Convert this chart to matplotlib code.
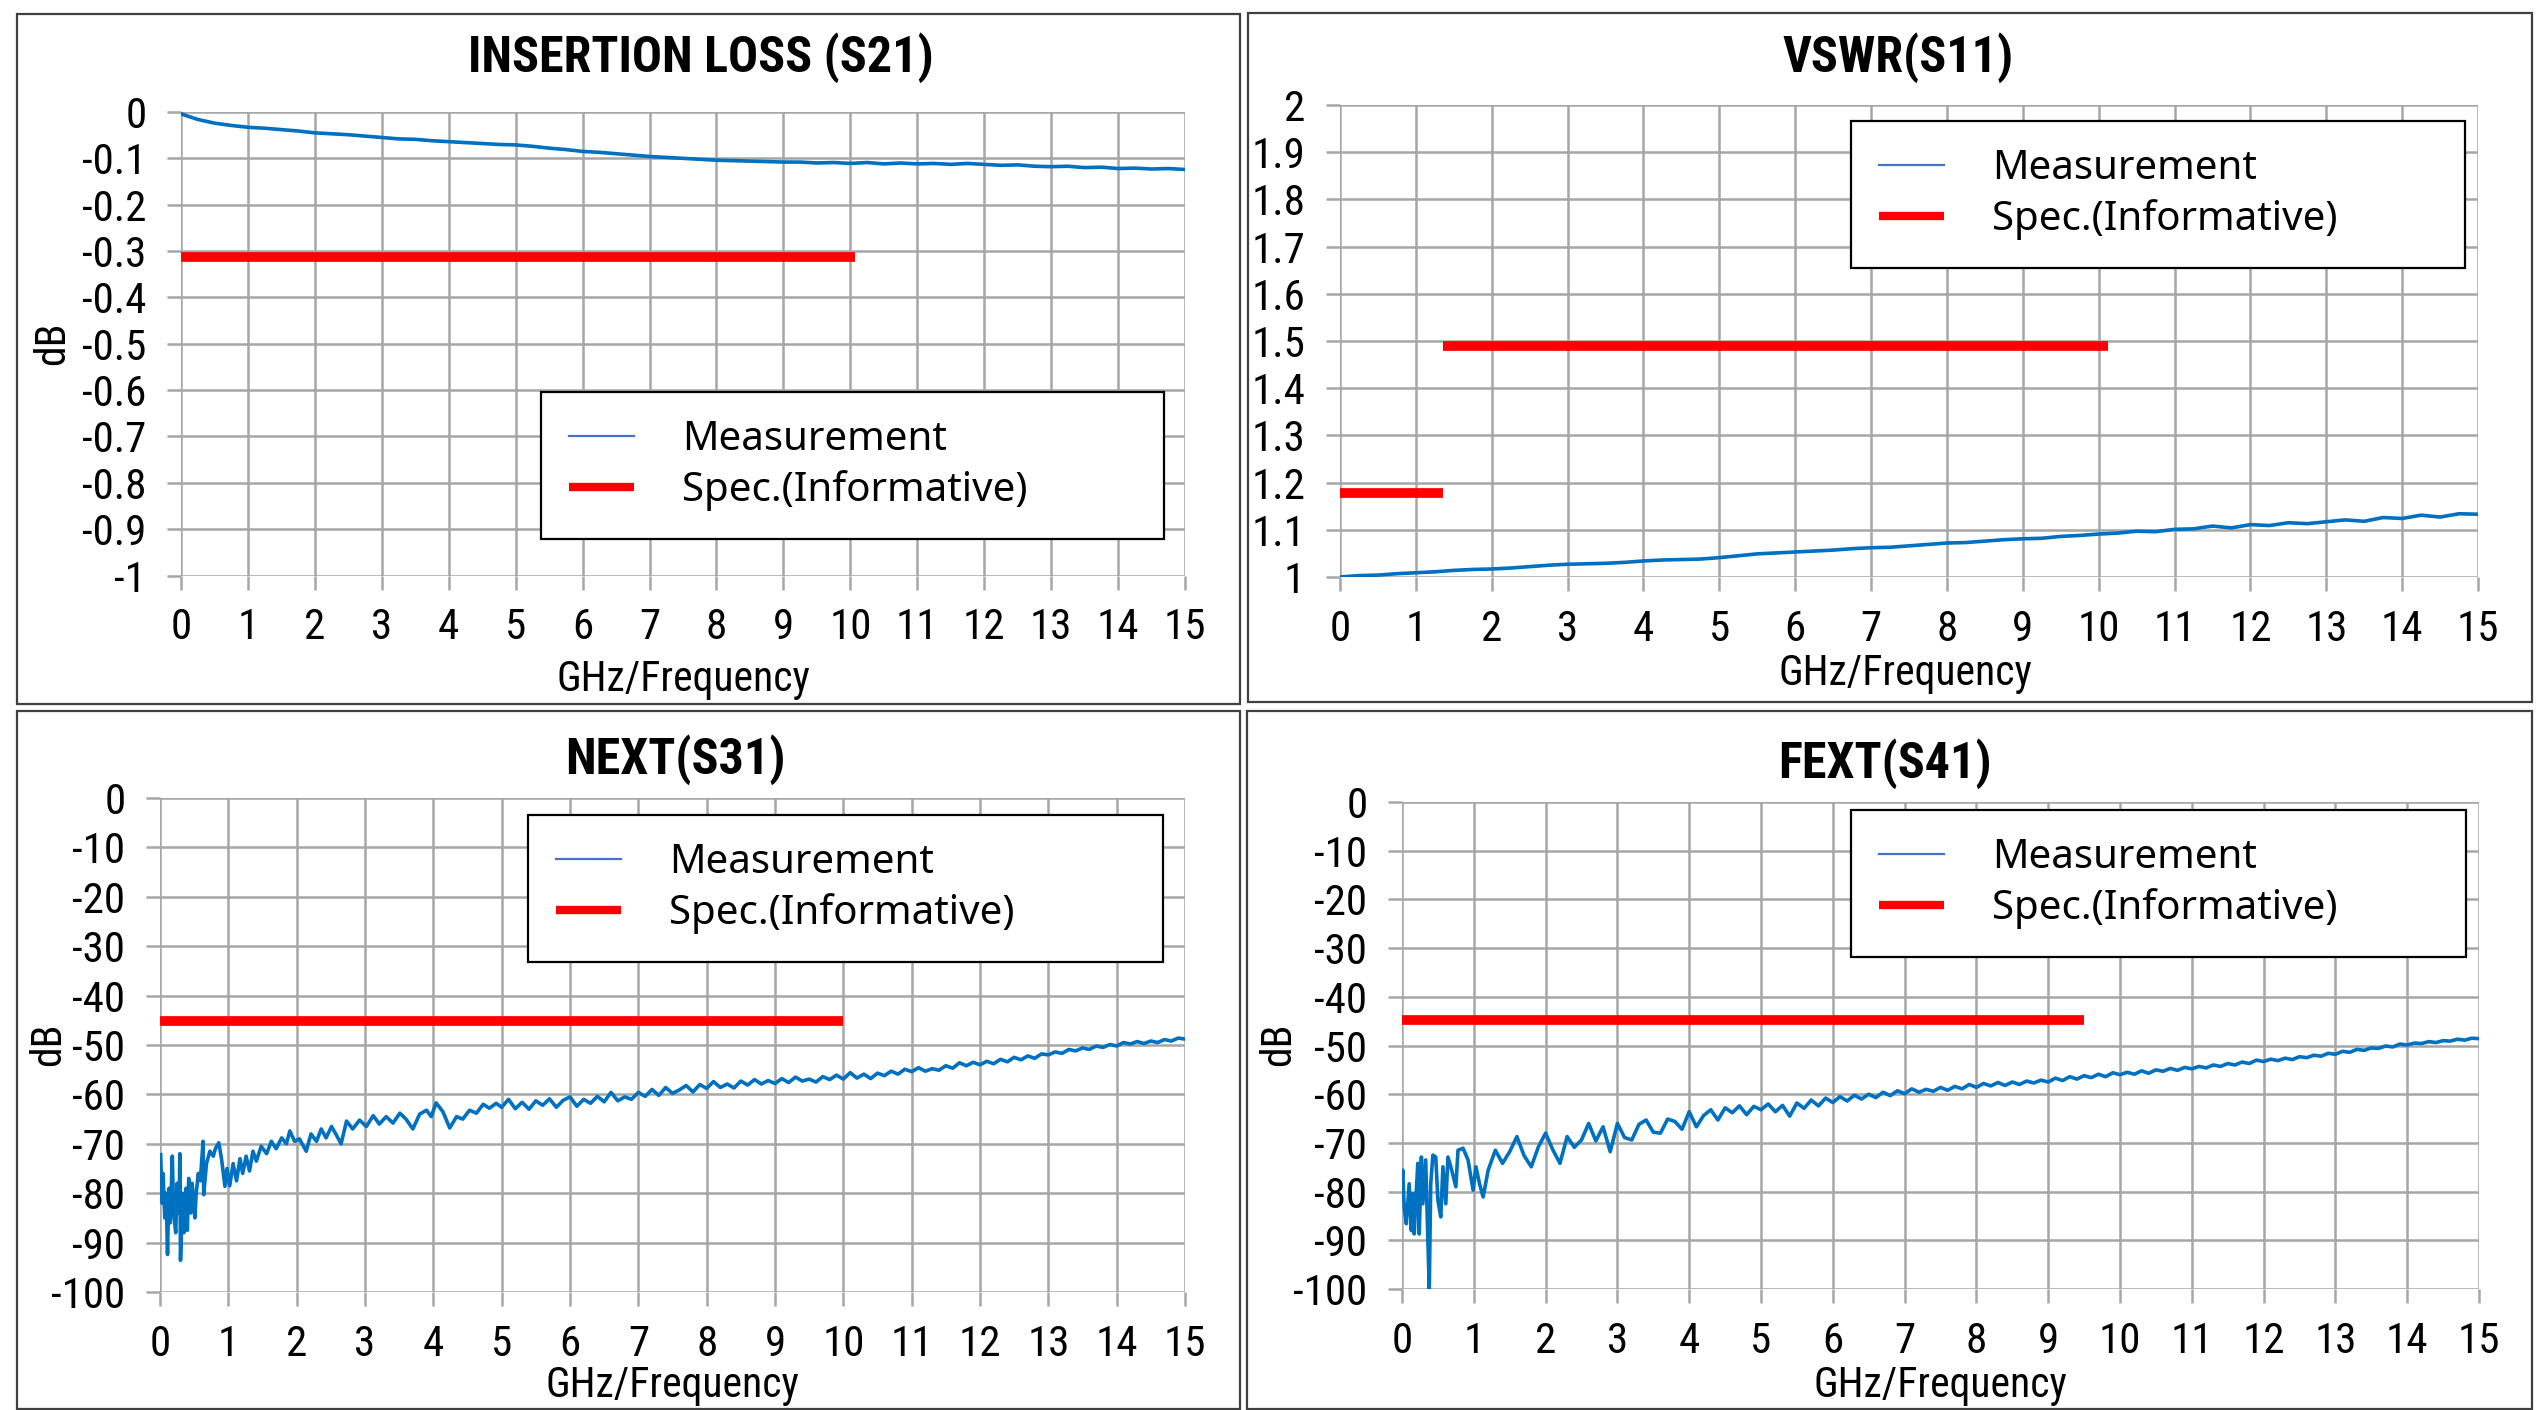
import matplotlib
matplotlib.use('Agg')
import matplotlib.pyplot as plt
from matplotlib.patches import Rectangle
from matplotlib.ticker import FuncFormatter

W, H = 2539, 1410
NARROW = ['Roboto Condensed', 'Archivo Narrow', 'DejaVu Sans']
LEGEND_FONT = ['Noto Sans', 'DejaVu Sans']
BLUE = '#0070C0'
RED = '#FF0000'
GRID = '#a6a6a6'

plt.rcParams['axes.unicode_minus'] = False
plt.rcParams['font.family'] = NARROW

# ---- data ----
il_freq = [0.0, 0.25, 0.5, 0.75, 1.0, 1.25, 1.5, 1.75, 2.0, 2.25, 2.5, 2.75, 3.0, 3.25, 3.5, 3.75,
           4.0, 4.25, 4.5, 4.75, 5.0, 5.25, 5.5, 5.75, 6.0, 6.25, 6.5, 6.75, 7.0, 7.25, 7.5, 7.75,
           8.0, 8.25, 8.5, 8.75, 9.0, 9.25, 9.5, 9.75, 10.0, 10.25, 10.5, 10.75, 11.0, 11.25, 11.5,
           11.75, 12.0, 12.25, 12.5, 12.75, 13.0, 13.25, 13.5, 13.75, 14.0, 14.25, 14.5, 14.75, 15.0]
il_db = [-0.004, -0.016, -0.024, -0.029, -0.033, -0.035, -0.038, -0.041, -0.045, -0.047, -0.049,
         -0.052, -0.055, -0.058, -0.059, -0.062, -0.064, -0.066, -0.068, -0.070, -0.071, -0.074,
         -0.078, -0.081, -0.085, -0.087, -0.090, -0.093, -0.096, -0.098, -0.100, -0.102, -0.104,
         -0.105, -0.106, -0.107, -0.108, -0.108, -0.110, -0.109, -0.111, -0.109, -0.112, -0.110,
         -0.112, -0.111, -0.113, -0.111, -0.113, -0.115, -0.114, -0.117, -0.118, -0.117, -0.120,
         -0.119, -0.122, -0.121, -0.123, -0.122, -0.124]
il_spec_freq = [0.0, 10.07]
il_spec_db = [-0.313, -0.313]

vswr_freq = il_freq
vswr_val = [1.000, 1.003, 1.004, 1.007, 1.009, 1.011, 1.014, 1.016, 1.017, 1.019, 1.022, 1.025,
            1.027, 1.028, 1.029, 1.031, 1.034, 1.036, 1.037, 1.038, 1.041, 1.045, 1.049, 1.051,
            1.053, 1.055, 1.057, 1.060, 1.062, 1.063, 1.066, 1.069, 1.072, 1.073, 1.076, 1.079,
            1.081, 1.082, 1.086, 1.088, 1.091, 1.093, 1.097, 1.096, 1.101, 1.102, 1.108, 1.104,
            1.111, 1.109, 1.115, 1.113, 1.117, 1.121, 1.118, 1.126, 1.124, 1.131, 1.127, 1.134, 1.133]
vswr_spec_freq = [0.0, 1.36, float('nan'), 1.36, 10.12]
vswr_spec_val = [1.179, 1.179, float('nan'), 1.489, 1.489]

hi_freq = [5.1, 5.2, 5.3, 5.4, 5.5, 5.6, 5.7, 5.8, 5.9, 6.0, 6.1, 6.2, 6.3, 6.4, 6.5, 6.6, 6.7, 6.8,
           6.9, 7.0, 7.1, 7.2, 7.3, 7.4, 7.5, 7.6, 7.7, 7.8, 7.9, 8.0, 8.1, 8.2, 8.3, 8.4, 8.5, 8.6,
           8.7, 8.8, 8.9, 9.0, 9.1, 9.2, 9.3, 9.4, 9.5, 9.6, 9.7, 9.8, 9.9, 10.0, 10.1, 10.2, 10.3,
           10.4, 10.5, 10.6, 10.7, 10.8, 10.9, 11.0, 11.1, 11.2, 11.3, 11.4, 11.5, 11.6, 11.7, 11.8,
           11.9, 12.0, 12.1, 12.2, 12.3, 12.4, 12.5, 12.6, 12.7, 12.8, 12.9, 13.0, 13.1, 13.2, 13.3,
           13.4, 13.5, 13.6, 13.7, 13.8, 13.9, 14.0, 14.1, 14.2, 14.3, 14.4, 14.5, 14.6, 14.7, 14.8,
           14.9, 15.0]

next_freq_lo = [0.01, 0.03, 0.045, 0.07, 0.09, 0.11, 0.13, 0.15, 0.18, 0.2, 0.23, 0.25, 0.28, 0.29,
                0.3, 0.33, 0.35, 0.38, 0.4, 0.42, 0.45, 0.47, 0.51, 0.53, 0.56, 0.59, 0.63, 0.64,
                0.68, 0.73, 0.78, 0.81, 0.86, 0.9, 0.95, 0.98, 1.02, 1.07, 1.12, 1.17, 1.21, 1.26,
                1.31, 1.36, 1.41, 1.48, 1.56, 1.63, 1.7, 1.78, 1.85, 1.9, 1.97, 2.04, 2.14, 2.21,
                2.29, 2.36, 2.43, 2.51, 2.58, 2.65, 2.73, 2.82, 2.92, 3.02, 3.12, 3.21, 3.31, 3.41,
                3.51, 3.6, 3.7, 3.8, 3.9, 3.97, 4.04, 4.14, 4.24, 4.34, 4.43, 4.53, 4.63, 4.73,
                4.82, 4.92, 5.0]
next_db_lo = [-72.2, -82, -76, -85, -80, -92.4, -79, -86, -72.5, -84, -88, -78, -84, -72, -93.6,
              -80, -88, -79, -87.5, -77, -84, -78, -85, -80, -76, -77.5, -69.5, -80.3, -74, -71.5,
              -72.5, -71, -69.8, -73, -78.6, -75, -78.5, -74, -77.5, -73, -76, -72.5, -75.5, -71.5,
              -73.5, -70.5, -72, -69.5, -71, -68.8, -70, -67.4, -69.5, -69, -71.5, -68, -69.5, -67,
              -68.8, -66.5, -68.2, -70, -65.4, -67, -65.2, -66.5, -64.3, -66, -64.5, -65.8, -63.8,
              -65, -67, -64, -63.2, -64.5, -61.7, -63.5, -66.8, -64.5, -65, -63.2, -63.8, -62,
              -62.8, -61.8, -62.6]
next_db_hi = [-61.0, -62.9, -61.6, -63.0, -61.3, -62.2, -60.9, -62.6, -61.2, -60.5, -62.4, -61.0,
              -61.8, -60.4, -61.5, -59.6, -61.3, -60.5, -61.0, -59.6, -60.4, -59.0, -60.2, -58.6,
              -59.8, -59.1, -58.2, -59.5, -58.0, -58.8, -57.4, -58.6, -57.9, -58.7, -57.3, -58.1,
              -57.0, -57.9, -57.2, -57.8, -56.8, -57.6, -56.5, -57.3, -56.9, -57.5, -56.4, -57.0,
              -56.1, -56.9, -55.6, -56.7, -55.9, -56.8, -55.7, -56.2, -55.3, -55.9, -54.9, -55.4,
              -54.6, -55.3, -54.8, -55.1, -54.2, -54.7, -53.6, -54.2, -53.5, -54.0, -53.3, -53.8,
              -52.9, -53.4, -52.5, -53.0, -52.2, -52.7, -51.8, -52.0, -51.4, -51.7, -50.9, -51.2,
              -50.6, -50.9, -50.2, -50.5, -49.9, -50.2, -49.5, -49.8, -49.3, -49.7, -49.2, -49.5,
              -48.9, -49.2, -48.6, -48.8]
next_spec_freq = [0.0, 10.0]
next_spec_db = [-45.2, -45.2]

fext_freq_lo = [0.0, 0.01, 0.03, 0.06, 0.1, 0.13, 0.15, 0.17, 0.2, 0.22, 0.24, 0.27, 0.29, 0.33,
                0.36, 0.38, 0.4, 0.43, 0.47, 0.5, 0.54, 0.57, 0.61, 0.64, 0.68, 0.75, 0.78, 0.85,
                0.92, 0.99, 1.03, 1.08, 1.13, 1.2, 1.3, 1.4, 1.5, 1.6, 1.7, 1.8, 1.9, 2.0, 2.1,
                2.2, 2.3, 2.4, 2.5, 2.6, 2.7, 2.8, 2.9, 3.0, 3.1, 3.2, 3.3, 3.4, 3.5, 3.6, 3.7, 3.8,
                3.9, 4.0, 4.1, 4.2, 4.3, 4.4, 4.5, 4.6, 4.7, 4.8, 4.9, 5.0]
fext_db_lo = [-78, -75.6, -83.2, -86.6, -78.4, -88, -80.4, -88.7, -79.7, -74.2, -88.7, -72.9,
              -82.5, -73.5, -90, -100, -78.4, -72.5, -72.9, -81.8, -85.2, -74.9, -82.5, -72.9,
              -74.9, -79, -71.5, -71.1, -73.5, -79.7, -74.9, -78.4, -81.1, -75.6, -71.5, -74.2,
              -71.8, -68.7, -72.6, -74.9, -70.8, -68.0, -71.4, -74.2, -68.7, -70.9, -69.4, -66.0,
              -69.6, -66.7, -71.8, -66.0, -68.9, -69.4, -66.2, -65.3, -67.8, -68.0, -65.1, -65.6,
              -67.2, -63.6, -66.7, -64.4, -63.2, -65.3, -62.8, -63.8, -62.4, -64.2, -62.5, -63.2]
fext_db_hi = [-62.0, -63.6, -62.3, -64.5, -61.8, -62.9, -61.2, -62.4, -60.8, -61.7, -60.5, -61.4,
              -60.2, -61.0, -60.0, -60.7, -59.6, -60.3, -59.3, -59.9, -58.9, -59.6, -59.0, -59.4,
              -58.6, -59.2, -58.4, -58.9, -58.0, -58.6, -57.8, -58.3, -57.6, -58.2, -57.5, -58.0,
              -57.3, -57.7, -57.1, -57.5, -56.7, -57.2, -56.4, -56.9, -56.2, -56.6, -55.9, -56.4,
              -55.6, -56.0, -55.5, -55.9, -55.2, -55.7, -55.0, -55.3, -54.7, -55.1, -54.5, -54.8,
              -54.3, -54.6, -54.0, -54.3, -53.7, -54.0, -53.4, -53.7, -53.0, -53.3, -52.8, -53.1,
              -52.6, -52.9, -52.3, -52.5, -52.0, -52.2, -51.6, -51.8, -51.2, -51.4, -50.8, -51.0,
              -50.5, -50.6, -50.1, -50.3, -49.7, -49.9, -49.5, -49.6, -49.2, -49.4, -49.0, -49.1,
              -48.7, -48.9, -48.5, -48.6]
fext_spec_freq = [0.0, 9.5]
fext_spec_db = [-44.8, -44.8]

fig = plt.figure(figsize=(W / 100, H / 100), dpi=100)


def px_axes(x0, y0, x1, y1):
    return fig.add_axes([x0 / W, 1 - y1 / H, (x1 - x0) / W, (y1 - y0) / H])


def px_text(x, y, s, **kw):
    fig.text(x / W, 1 - y / H, s, ha='center', va='center', **kw)


def panel_frame(x0, y0, x1, y1):
    fig.add_artist(Rectangle((x0 / W, 1 - y1 / H), (x1 - x0) / W, (y1 - y0) / H,
                             transform=fig.transFigure, fill=False,
                             edgecolor='#404040', linewidth=1.6))


def style(ax, ylim, yticks):
    ax.set_xlim(0, 15)
    ax.set_ylim(*ylim)
    ax.set_xticks(range(16))
    ax.set_yticks(yticks)
    ax.yaxis.set_major_formatter(FuncFormatter(lambda v, p: f'{v:g}'))
    for s in ax.spines.values():
        s.set_visible(False)
    ax.grid(True, color=GRID, linewidth=1.8)
    ax.set_axisbelow(True)
    ax.tick_params(length=10, width=1.8, color=GRID, pad=15, labelsize=31)
    ax.tick_params(axis='x', pad=13)


def draw(ax, fx, fy, sx, sy, legend_box):
    ax.plot(fx, fy, color=BLUE, linewidth=2.6, label='Measurement')
    ax.plot(sx, sy, color=RED, linewidth=7, solid_capstyle='butt', label='Spec.(Informative)')
    l, t, w = legend_box
    leg = ax.legend(loc='upper left', bbox_to_anchor=(l, t - 0.3, w, 0.3), mode='expand',
                    borderaxespad=0, fancybox=False, framealpha=1, edgecolor='black',
                    prop={'family': LEGEND_FONT, 'size': 29}, handlelength=1.6,
                    handletextpad=1.2, borderpad=0.7, labelspacing=0.25)
    leg.get_frame().set_linewidth(1.6)
    hl = leg.get_lines()
    hl[0].set_color('#4472C4')
    hl[0].set_linewidth(1.6)
    hl[1].set_linewidth(6)
    return leg


for box in [(17, 14, 1240, 704), (1248, 13, 2532, 702), (17, 711, 1240, 1409), (1247, 711, 2532, 1409)]:
    panel_frame(*box)

# insertion loss
ax1 = px_axes(181, 112, 1185, 575.5)
draw(ax1, il_freq, il_db, il_spec_freq, il_spec_db, (0.3586, 0.396, 0.6205))
style(ax1, (-1, 0), [0, -0.1, -0.2, -0.3, -0.4, -0.5, -0.6, -0.7, -0.8, -0.9, -1])
px_text(701, 58, 'INSERTION LOSS (S21)', fontsize=36, fontweight='bold')
px_text(683, 679, 'GHz/Frequency', fontsize=30)
px_text(53, 343, 'dB', fontsize=30, rotation=90)

# VSWR
ax2 = px_axes(1340, 105, 2478, 577)
draw(ax2, vswr_freq, vswr_val, vswr_spec_freq, vswr_spec_val, (0.449, 0.966, 0.540))
style(ax2, (1, 2), [1, 1.1, 1.2, 1.3, 1.4, 1.5, 1.6, 1.7, 1.8, 1.9, 2])
px_text(1898, 58, 'VSWR(S11)', fontsize=36, fontweight='bold')
px_text(1905, 673, 'GHz/Frequency', fontsize=30)

# NEXT
ax3 = px_axes(160, 798, 1185, 1292)
draw(ax3, next_freq_lo + hi_freq, next_db_lo + next_db_hi, next_spec_freq, next_spec_db,
     (0.359, 0.966, 0.620))
style(ax3, (-100, 0), list(range(0, -101, -10)))
px_text(675, 760, 'NEXT(S31)', fontsize=36, fontweight='bold')
px_text(672, 1385, 'GHz/Frequency', fontsize=30)
px_text(49, 1044, 'dB', fontsize=30, rotation=90)

# FEXT
ax4 = px_axes(1402, 802, 2479, 1289)
draw(ax4, fext_freq_lo + hi_freq, fext_db_lo + fext_db_hi, fext_spec_freq, fext_spec_db,
     (0.417, 0.984, 0.571))
style(ax4, (-100, 0), list(range(0, -101, -10)))
px_text(1885, 764, 'FEXT(S41)', fontsize=36, fontweight='bold')
px_text(1940, 1385, 'GHz/Frequency', fontsize=30)
px_text(1279, 1044, 'dB', fontsize=30, rotation=90)

fig.savefig('out.png', dpi=100)
